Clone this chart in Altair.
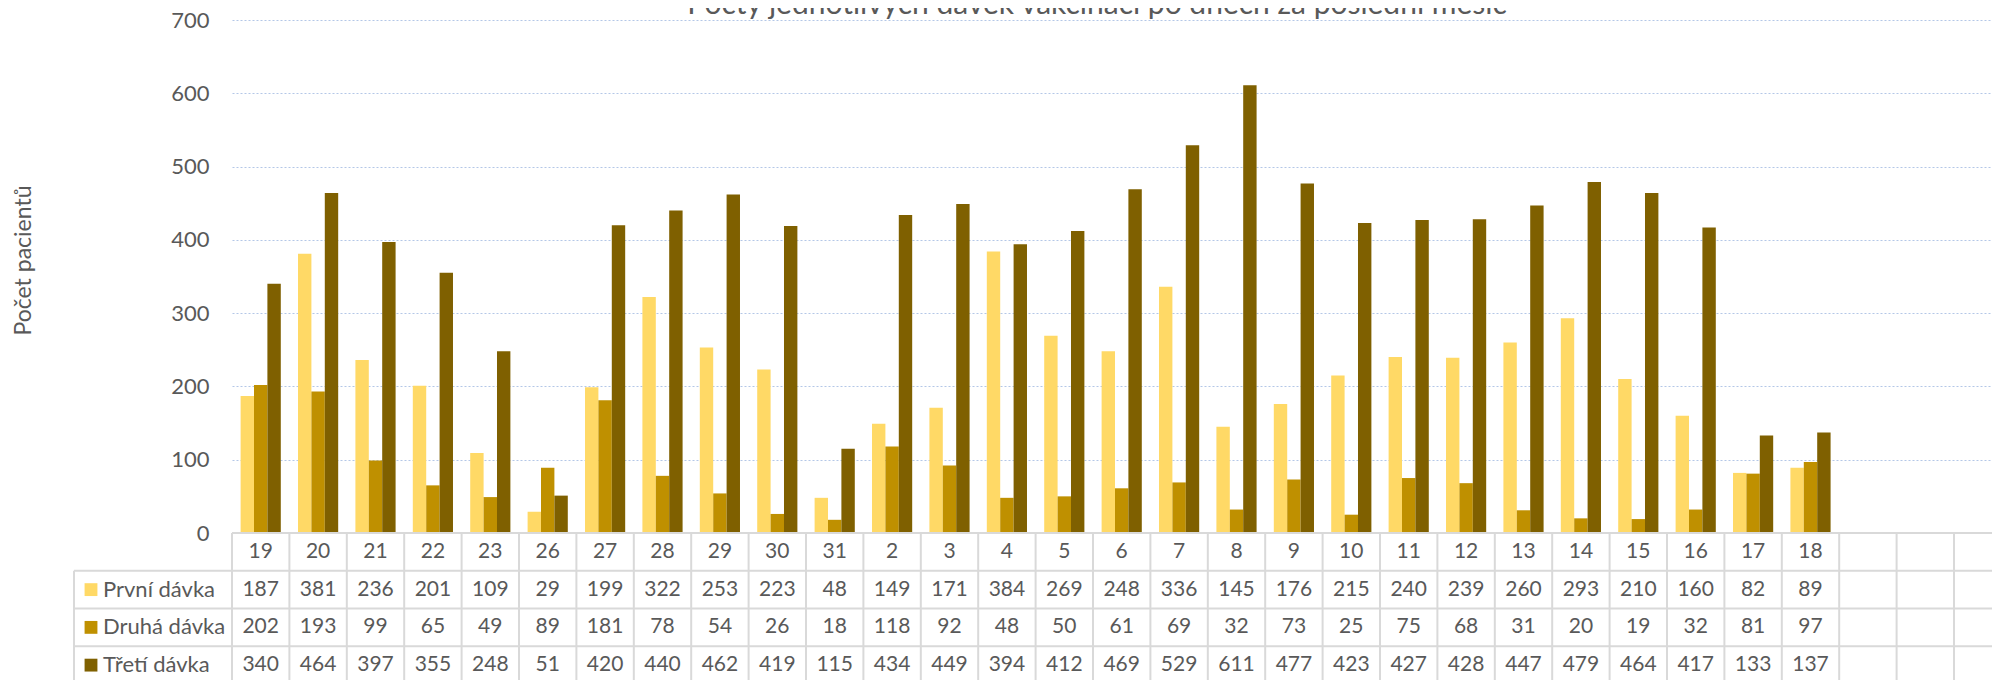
import altair as alt
import pandas as pd

# ---------------- data ----------------
days = ["19", "20", "21", "22", "23", "26", "27", "28", "29", "30", "31",
        "2", "3", "4", "5", "6", "7", "8", "9", "10", "11", "12", "13", "14",
        "15", "16", "17", "18"]
blank_cols = ["_e1", "_e2", "_e3"]
doses = ["První dávka", "Druhá dávka", "Třetí dávka"]
prvni = [187, 381, 236, 201, 109, 29, 199, 322, 253, 223, 48, 149, 171, 384,
         269, 248, 336, 145, 176, 215, 240, 239, 260, 293, 210, 160, 82, 89]
druha = [202, 193, 99, 65, 49, 89, 181, 78, 54, 26, 18, 118, 92, 48, 50, 61,
         69, 32, 73, 25, 75, 68, 31, 20, 19, 32, 81, 97]
treti = [340, 464, 397, 355, 248, 51, 420, 440, 462, 419, 115, 434, 449, 394,
         412, 469, 529, 611, 477, 423, 427, 428, 447, 479, 464, 417, 133, 137]
y_ticks = [0, 100, 200, 300, 400, 500, 600, 700]
colors = ["#FFD966", "#BF9000", "#7F6000"]
title_text = "Počty jednotlivých dávek vakcinací po dnech za poslední měsíc"
y_title = "Počet pacientů"

# ---------------- tables for the library ----------------
cats = days + blank_cols
series = [prvni, druha, treti]
bars_df = pd.DataFrame([
    {"day": d, "dose": dose, "value": vals[i]}
    for dose, vals in zip(doses, series)
    for i, d in enumerate(days)
])
cell_rows = [{"day": d, "row": 0.5, "txt": d} for d in days]
for k, (dose, vals) in enumerate(zip(doses, series)):
    cell_rows += [{"day": d, "row": k + 1.5, "txt": str(vals[i])}
                  for i, d in enumerate(days)]
cells_df = pd.DataFrame(cell_rows)
legend_df = pd.DataFrame({"dose": doses, "row": [1.5, 2.5, 3.5]})
vlines_df = pd.DataFrame({"day": cats, "y0": [0] * len(cats), "y1": [4.3] * len(cats)})
hline_top_df = pd.DataFrame({"row": [0]})
hlines_df = pd.DataFrame({"row": [1, 2, 3, 4]})
lborder_df = pd.DataFrame({"y0": [1], "y1": [4.3]})
title_df = pd.DataFrame({"t": [title_text]})

# ---------------- geometry / style ----------------
FONT = "Lato"
TXT = "#595959"
GRID = "#B4C7E7"
BORDER = "#D9D9D9"
PLOT_H = 513
COL_W = 57.4
RANGE_W = COL_W * len(cats)
VIEW_W = 1760

color_scale = alt.Scale(domain=doses, range=colors)

bars = alt.Chart(bars_df).mark_bar().encode(
    x=alt.X("day:N", scale=alt.Scale(domain=cats, range=[0, RANGE_W],
                                     paddingInner=0.3, paddingOuter=0.15),
            axis=None),
    xOffset=alt.XOffset("dose:N", scale=alt.Scale(domain=doses)),
    y=alt.Y("value:Q",
            scale=alt.Scale(domain=[0, 700], nice=False),
            axis=alt.Axis(values=y_ticks, grid=True, gridColor=GRID,
                          gridDash=[2, 2], gridWidth=1.2, domain=False,
                          ticks=False, labelPadding=23, labelFontSize=22,
                          labelFont=FONT, labelColor=TXT,
                          title=y_title, titleFont=FONT, titleFontSize=23,
                          titleFontWeight="normal", titleColor=TXT,
                          titleX=-209, titleY=240, titleAngle=270,
                          titleAlign="center", titleBaseline="middle")),
    color=alt.Color("dose:N", scale=color_scale, legend=None),
)

title_mark = alt.Chart(title_df).mark_text(
    font=FONT, fontSize=30, color=TXT, align="center", baseline="alphabetic"
).encode(text="t:N", x=alt.value(865), y=alt.value(-6))

tx = alt.X("day:N", scale=alt.Scale(domain=cats, range=[0, RANGE_W],
                                    paddingInner=0, paddingOuter=0), axis=None)
ty_scale = alt.Scale(domain=[0, 4], range=[PLOT_H, PLOT_H + 151], nice=False, zero=False)

vlines = alt.Chart(vlines_df).mark_rule(color=BORDER, strokeWidth=2).encode(
    x=alt.X("day:N", bandPosition=0,
            scale=alt.Scale(domain=cats, range=[0, RANGE_W], paddingInner=0, paddingOuter=0),
            axis=None),
    y=alt.Y("y0:Q", scale=ty_scale, axis=None),
    y2="y1:Q",
)
lborder = alt.Chart(lborder_df).mark_rule(color=BORDER, strokeWidth=2).encode(
    x=alt.value(-158),
    y=alt.Y("y0:Q", scale=ty_scale, axis=None),
    y2="y1:Q",
)
hline_top = alt.Chart(hline_top_df).mark_rule(color=BORDER, strokeWidth=2).encode(
    x=alt.value(0), x2=alt.value(RANGE_W + 20),
    y=alt.Y("row:Q", scale=ty_scale, axis=None),
)
hlines = alt.Chart(hlines_df).mark_rule(color=BORDER, strokeWidth=2).encode(
    x=alt.value(-158), x2=alt.value(RANGE_W + 20),
    y=alt.Y("row:Q", scale=ty_scale, axis=None),
)
cells = alt.Chart(cells_df).mark_text(
    font=FONT, fontSize=21, color=TXT, align="center", baseline="middle"
).encode(
    x=tx,
    y=alt.Y("row:Q", scale=ty_scale, axis=None),
    text="txt:N",
)
keys = alt.Chart(legend_df).mark_square(size=165, opacity=1).encode(
    x=alt.value(-141),
    y=alt.Y("row:Q", scale=ty_scale, axis=None),
    color=alt.Color("dose:N", scale=color_scale, legend=None),
)
key_labels = alt.Chart(legend_df).mark_text(
    font=FONT, fontSize=22, color=TXT, align="left", baseline="middle"
).encode(
    x=alt.value(-129),
    y=alt.Y("row:Q", scale=ty_scale, axis=None),
    text="dose:N",
)

table = alt.layer(vlines, lborder, hlines, hline_top, cells, keys, key_labels)

chart = alt.layer(bars, title_mark, table).resolve_scale(
    x="independent", y="independent"
).properties(
    width=VIEW_W,
    height=PLOT_H,
    autosize=alt.AutoSizeParams(type="none"),
    padding={"left": 224, "top": 12, "right": 0, "bottom": 160},
    background="white",
).configure_view(stroke=None)

chart.save("out.html", embed_options={"renderer": "svg", "actions": False})
